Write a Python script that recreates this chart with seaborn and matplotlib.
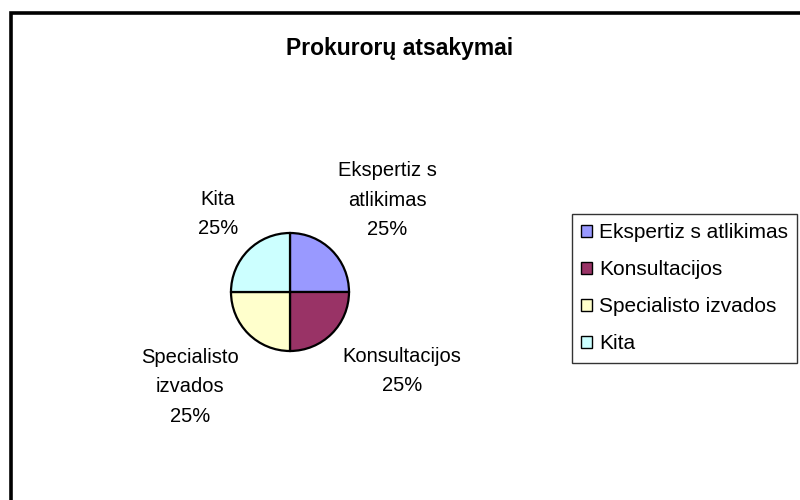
import matplotlib
matplotlib.use("Agg")
import matplotlib.pyplot as plt
import seaborn as sns
from matplotlib.patches import Rectangle, Patch

categories = ["Ekspertiz s atlikimas", "Konsultacijos", "Specialisto izvados", "Kita"]
pie_labels = ["Ekspertiz s\natlikimas\n25%", "Konsultacijos\n25%", "Specialisto\nizvados\n25%", "Kita\n25%"]
values = [25, 25, 25, 25]
colors = ["#9999FF", "#993366", "#FFFFCC", "#CCFFFF"]
title = "Prokurorų atsakymai"

sns.set_theme(style="white")
plt.rcParams["font.family"] = ["Liberation Sans", "DejaVu Sans"]
plt.rcParams["text.color"] = "black"

fig = plt.figure(figsize=(8, 5), dpi=100)
ax = fig.add_axes([0, 0, 1, 1])

wedges, _ = ax.pie(values, colors=colors, startangle=90, counterclock=False,
                   center=(290, 208), radius=59,
                   wedgeprops=dict(edgecolor="black", linewidth=1.6))
ax.set_xlim(0, 800)
ax.set_ylim(0, 500)
ax.set_aspect("auto")
ax.axis("off")

label_pos = [(387, 300), (402, 129), (190, 113), (218, 286)]
for (x, y), t in zip(label_pos, pie_labels):
    ax.text(x, y, t, ha="center", va="center", fontsize=14.5, linespacing=1.68, color="black")

ax.text(400, 452, title, ha="center", va="center", fontsize=16.5, fontweight="bold", color="black")

frame = Rectangle((10.5, -20), 820, 507, fill=False, edgecolor="black", linewidth=2.6, clip_on=False)
ax.add_patch(frame)

handles = [Patch(facecolor=c, edgecolor="black", linewidth=1) for c in colors]
leg = ax.legend(handles, categories, loc="upper left", bbox_to_anchor=(572/800, 1 - 214/500),
                frameon=True, fontsize=15, handlelength=0.5, handleheight=0.5,
                handletextpad=0.35, labelspacing=0.86, borderpad=0.45, borderaxespad=0,
                fancybox=False)
for t in leg.get_texts():
    t.set_color("black")
leg.get_frame().set_edgecolor("black")
leg.get_frame().set_linewidth(1.0)

fig.savefig("out.png", dpi=100)
